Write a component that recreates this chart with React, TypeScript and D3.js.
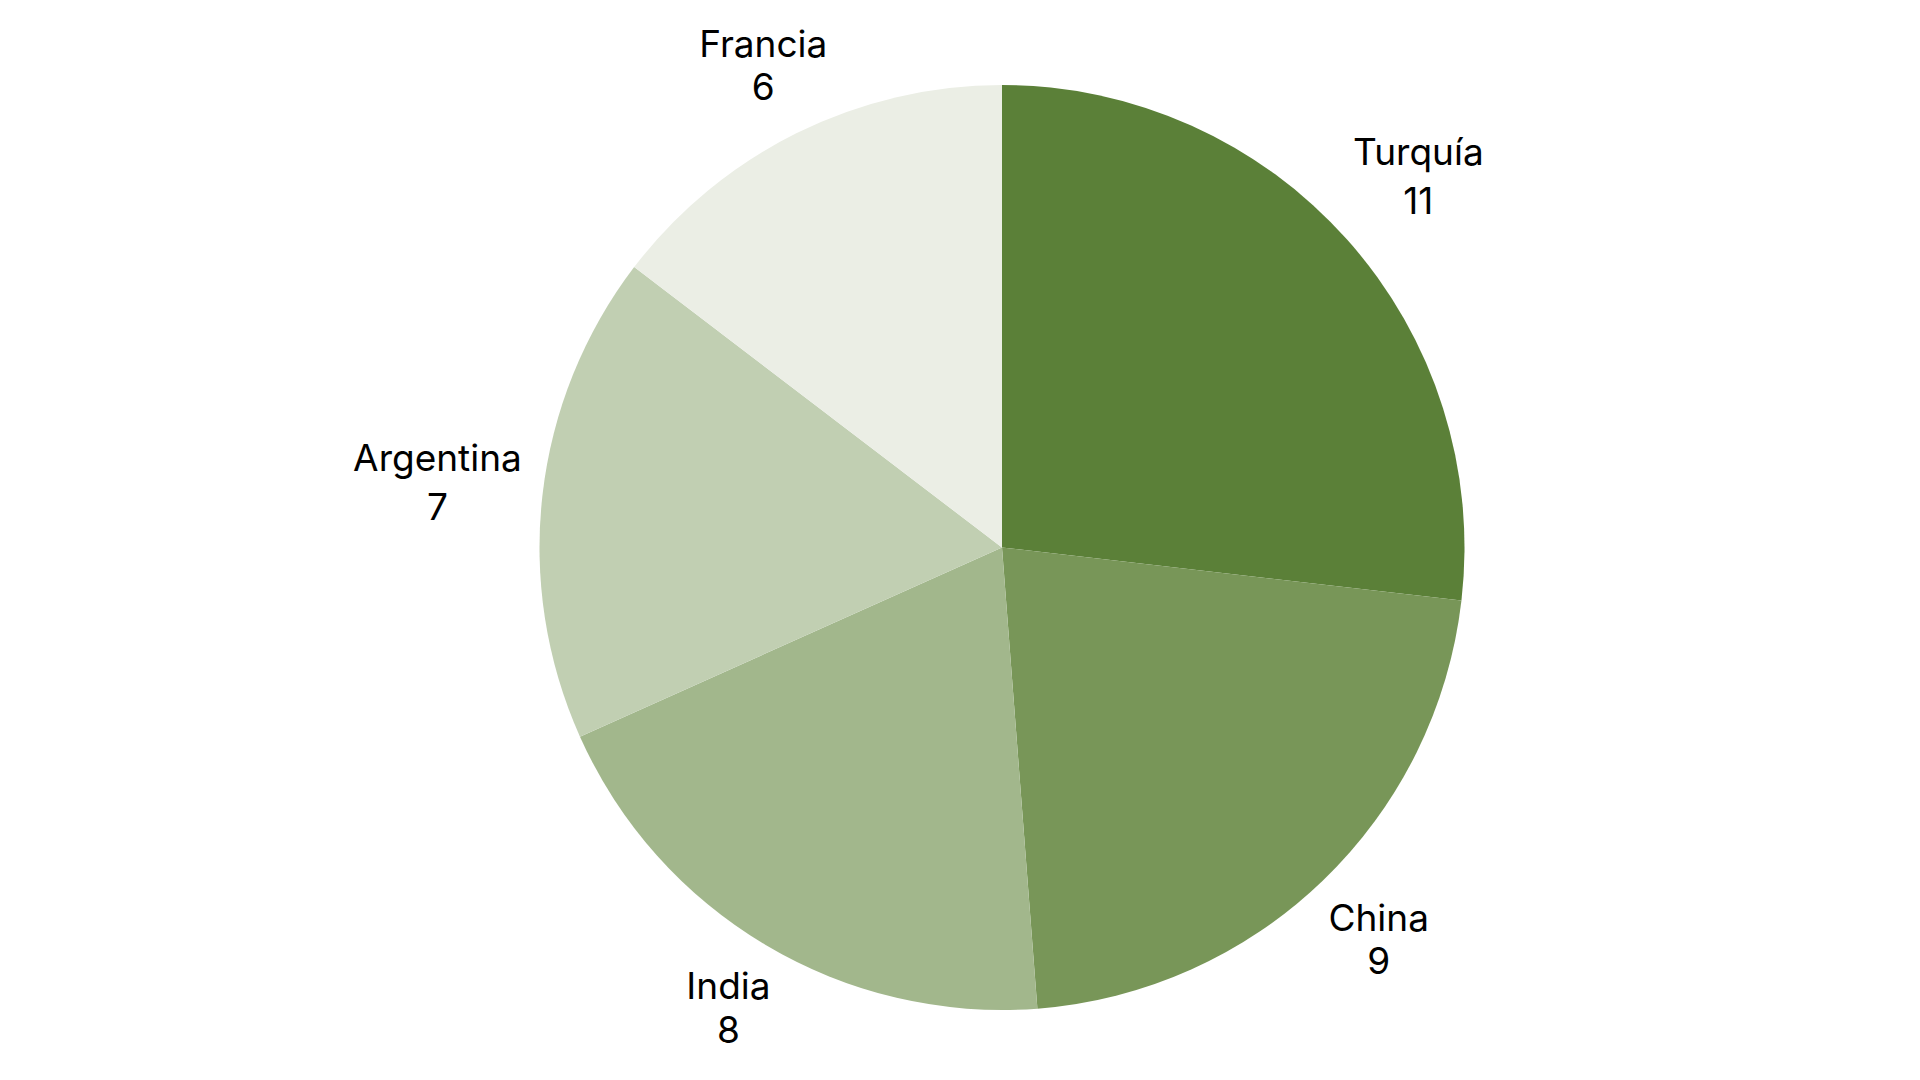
import { useEffect, useRef } from 'react';
import * as d3 from 'd3';

const countries = ['Turquía', 'China', 'India', 'Argentina', 'Francia'];
const values = [11, 9, 8, 7, 6];
const colors = ['#5b8038', '#789658', '#a2b78c', '#c1cfb2', '#ebeee5'];

interface Slice {
  label: string;
  value: number;
  color: string;
}

const data: Slice[] = countries.map((c, i) => ({ label: c, value: values[i], color: colors[i] }));

const WIDTH = 1920;
const HEIGHT = 1080;
const CX = 1002;
const CY = 547.5;
const RADIUS = 462.5;
const FONT_SIZE = 37;
const LABEL_GAP = 32;

export default function App() {
  const svgRef = useRef<SVGSVGElement>(null);

  useEffect(() => {
    if (!svgRef.current) return;
    const svg = d3.select(svgRef.current);
    svg.selectAll('*').remove();

    const pie = d3.pie<Slice>().value((d) => d.value).sort(null);
    const arc = d3.arc<d3.PieArcDatum<Slice>>().innerRadius(0).outerRadius(RADIUS);
    const arcs = pie(data);

    const g = svg.append('g').attr('transform', `translate(${CX}, ${CY})`);

    g.selectAll('path')
      .data(arcs)
      .join('path')
      .attr('d', arc)
      .attr('fill', (d) => d.data.color);

    // labels: two lines, pushed out so the text box sits just outside the rim
    arcs.forEach((a) => {
      const mid = (a.startAngle + a.endAngle) / 2;
      const dx = Math.sin(mid);
      const dy = -Math.cos(mid);

      const text = g.append('text')
        .attr('font-family', 'Inter, sans-serif')
        .attr('font-size', FONT_SIZE)
        .attr('text-anchor', 'middle')
        .attr('fill', '#000');

      const hasDescender = /[gjpqy]/.test(a.data.label);
      const lineGap = 1.17 * FONT_SIZE + (hasDescender ? 0.16 * FONT_SIZE : 0);

      const l1 = text.append('tspan').attr('x', 0).text(a.data.label);
      const l2 = text.append('tspan').attr('x', 0).attr('dy', lineGap).text(String(a.data.value));

      const w = Math.max(
        (l1.node() as SVGTSpanElement).getComputedTextLength(),
        (l2.node() as SVGTSpanElement).getComputedTextLength(),
      );
      const cap = 0.727 * FONT_SIZE;
      const h = cap + lineGap;
      const hw = w / 2 - 11;
      const hh = dy < 0 ? h / 2 + 4 : h / 2;
      const kx = Math.abs(dx) > 1e-6 ? hw / Math.abs(dx) : Infinity;
      const ky = Math.abs(dy) > 1e-6 ? hh / Math.abs(dy) : Infinity;
      const k = Math.min(kx, ky);
      const R = RADIUS + LABEL_GAP + k;

      text.attr('transform', `translate(${dx * R}, ${dy * R - h / 2 + cap})`);
    });
  }, []);

  return (
    <div style={{ position: 'fixed', left: 0, top: 0 }}>
      <svg ref={svgRef} width={WIDTH} height={HEIGHT} style={{ display: 'block', background: '#fff' }} />
    </div>
  );
}
